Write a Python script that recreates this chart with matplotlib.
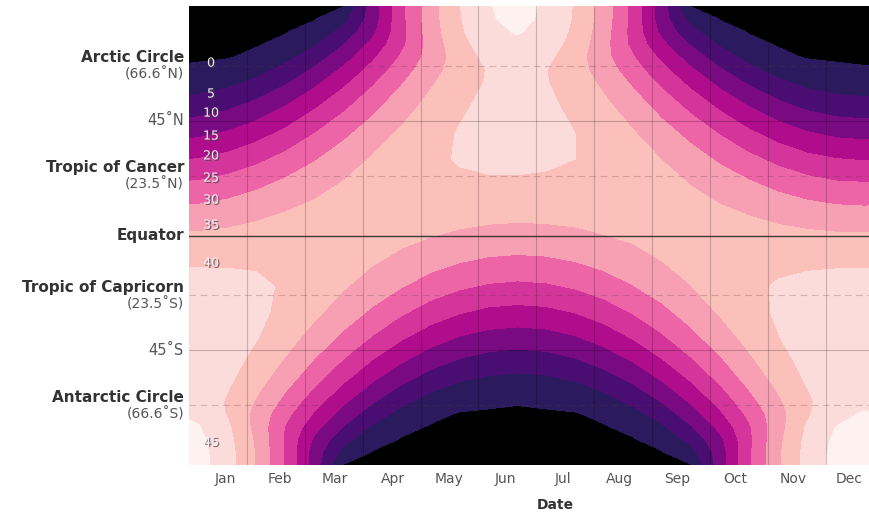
import numpy as np
import matplotlib
matplotlib.use('Agg')
import matplotlib.pyplot as plt
import matplotlib.patheffects as pe

# time axis in months (0 = Jan 1, 12 = Dec 31), half-month steps
x_months = [-0.33, 0.17, 0.67, 1.17, 1.67, 2.17, 2.67, 3.17, 3.67, 4.17, 4.67, 5.17, 5.67,
            6.17, 6.67, 7.17, 7.67, 8.17, 8.67, 9.17, 9.67, 10.17, 10.67, 11.17, 11.67, 12.17]

lats = [-90, -85, -80, -75, -70, -65, -60, -50, -40, -30, -20, -10, 0,
        10, 20, 30, 40, 50, 60, 65, 70, 75, 80, 85, 90]

# daily insolation (MJ/m^2), one row per latitude
q_s90 = [48.3, 46.8, 42.1, 34.5, 24.4, 12.6, 0, 0, 0, 0, 0, 0, 0, 0, 0, 0, 0, 0, 0, 12.5, 24.1, 34.1, 41.8, 46.6, 48.3, 46.8]
q_s85 = [48.1, 46.6, 41.9, 34.4, 24.3, 12.6, 3.3, 0, 0, 0, 0, 0, 0, 0, 0, 0, 0, 0, 3.2, 12.4, 24.0, 34.0, 41.6, 46.4, 48.1, 46.6]
q_s80 = [47.6, 46.1, 41.5, 34.0, 24.1, 14.0, 6.5, 1.6, 0, 0, 0, 0, 0, 0, 0, 0, 0, 1.5, 6.5, 13.8, 23.8, 33.6, 41.2, 45.9, 47.6, 46.1]
q_s75 = [46.7, 45.2, 40.7, 33.3, 24.6, 16.7, 9.8, 4.4, 1.0, 0, 0, 0, 0, 0, 0, 0, 1.0, 4.3, 9.6, 16.4, 24.3, 33.0, 40.4, 45.0, 46.7, 45.2]
q_s70 = [45.4, 44.0, 39.6, 33.3, 26.4, 19.4, 12.9, 7.4, 3.4, 0.9, 0, 0, 0, 0, 0, 0.9, 3.3, 7.3, 12.7, 19.1, 26.1, 33.0, 39.3, 43.8, 45.4, 44.0]
q_s65 = [44.0, 42.9, 39.5, 34.5, 28.5, 22.1, 15.9, 10.5, 6.2, 3.1, 1.3, 0.5, 0.3, 0.5, 1.3, 3.1, 6.1, 10.3, 15.7, 21.8, 28.2, 34.2, 39.2, 42.7, 44.0, 42.9]
q_s60 = [43.9, 43.0, 40.2, 35.9, 30.5, 24.7, 18.9, 13.5, 9.1, 5.8, 3.6, 2.4, 2.0, 2.3, 3.5, 5.7, 9.0, 13.3, 18.6, 24.3, 30.2, 35.5, 39.9, 42.8, 43.9, 43.0]
q_s50 = [44.4, 43.8, 41.7, 38.4, 34.2, 29.3, 24.2, 19.3, 15.0, 11.5, 9.0, 7.5, 6.9, 7.4, 8.9, 11.4, 14.8, 19.1, 23.9, 28.9, 33.8, 38.0, 41.4, 43.6, 44.4, 43.8]
q_s40 = [44.5, 44.1, 42.6, 40.2, 37.0, 33.1, 28.9, 24.6, 20.6, 17.3, 14.7, 13.2, 12.6, 13.1, 14.6, 17.1, 20.4, 24.3, 28.5, 32.7, 36.5, 39.8, 42.3, 43.9, 44.5, 44.1]
q_s30 = [43.8, 43.5, 42.6, 41.0, 38.8, 36.0, 32.7, 29.2, 25.7, 22.7, 20.4, 18.9, 18.4, 18.8, 20.2, 22.5, 25.4, 28.7, 32.2, 35.5, 38.3, 40.6, 42.3, 43.3, 43.8, 43.5]
q_s20 = [42.0, 41.9, 41.5, 40.8, 39.5, 37.7, 35.4, 32.8, 30.2, 27.7, 25.7, 24.4, 23.9, 24.3, 25.5, 27.4, 29.8, 32.4, 34.9, 37.2, 39.0, 40.4, 41.3, 41.8, 42.0, 41.9]
q_s10 = [39.2, 39.3, 39.4, 39.4, 39.1, 38.3, 37.1, 35.5, 33.7, 31.9, 30.3, 29.3, 28.9, 29.2, 30.1, 31.6, 33.3, 35.0, 36.6, 37.8, 38.6, 39.0, 39.1, 39.2, 39.2, 39.3]
q_eq = [35.5, 35.7, 36.2, 36.9, 37.5, 37.8, 37.7, 37.2, 36.3, 35.2, 34.2, 33.5, 33.2, 33.4, 34.0, 34.9, 35.8, 36.6, 37.2, 37.3, 37.0, 36.5, 36.0, 35.6, 35.5, 35.7]
q_n10 = [30.8, 31.2, 32.1, 33.4, 34.8, 36.1, 37.1, 37.7, 37.8, 37.6, 37.3, 36.9, 36.7, 36.8, 37.0, 37.2, 37.3, 37.2, 36.6, 35.6, 34.4, 33.1, 31.9, 31.1, 30.8, 31.2]
q_n20 = [25.5, 25.9, 27.2, 29.0, 31.2, 33.4, 35.4, 37.1, 38.2, 38.9, 39.3, 39.4, 39.4, 39.2, 39.0, 38.5, 37.8, 36.6, 34.9, 32.9, 30.8, 28.7, 27.0, 25.8, 25.5, 25.9]
q_n30 = [19.6, 20.1, 21.6, 23.8, 26.6, 29.6, 32.7, 35.4, 37.6, 39.2, 40.3, 40.9, 41.0, 40.7, 40.0, 38.8, 37.1, 34.9, 32.2, 29.2, 26.3, 23.6, 21.4, 20.1, 19.6, 20.1]
q_n40 = [13.5, 14.0, 15.6, 18.1, 21.3, 25.0, 28.9, 32.6, 35.8, 38.4, 40.3, 41.4, 41.7, 41.2, 40.0, 38.0, 35.4, 32.1, 28.5, 24.7, 21.0, 17.9, 15.5, 14.0, 13.5, 14.0]
q_n50 = [7.4, 7.9, 9.5, 12.0, 15.5, 19.7, 24.2, 28.8, 33.1, 36.7, 39.4, 41.1, 41.6, 40.9, 39.1, 36.3, 32.7, 28.4, 23.9, 19.4, 15.3, 11.9, 9.4, 7.9, 7.4, 7.9]
q_n60 = [2.1, 2.5, 3.8, 6.0, 9.4, 13.8, 18.9, 24.3, 29.6, 34.3, 38.0, 40.4, 41.2, 40.2, 37.7, 33.9, 29.2, 23.9, 18.6, 13.6, 9.3, 6.0, 3.7, 2.5, 2.1, 2.5]
q_n65 = [0.3, 0.5, 1.4, 3.3, 6.4, 10.7, 15.9, 21.7, 27.6, 33.0, 37.4, 40.3, 41.3, 40.1, 37.1, 32.6, 27.2, 21.4, 15.7, 10.5, 6.3, 3.2, 1.4, 0.5, 0.3, 0.5]
q_n70 = [0, 0, 0, 0.9, 3.5, 7.6, 12.9, 19.1, 25.6, 31.9, 37.4, 41.3, 42.5, 41.1, 37.1, 31.5, 25.3, 18.8, 12.7, 7.4, 3.4, 0.9, 0, 0, 0, 0]
q_n75 = [0, 0, 0, 0, 1.0, 4.5, 9.8, 16.4, 23.8, 31.8, 38.4, 42.4, 43.9, 42.3, 38.2, 31.5, 23.5, 16.2, 9.6, 4.4, 1.0, 0, 0, 0, 0, 0]
q_n80 = [0, 0, 0, 0, 0, 1.6, 6.5, 13.8, 23.3, 32.4, 39.2, 43.6, 45.4, 43.4, 38.9, 32.1, 23.0, 13.6, 6.4, 1.6, 0, 0, 0, 0, 0, 0]
q_n85 = [0, 0, 0, 0, 0, 0, 3.3, 12.4, 23.6, 32.8, 39.6, 44.6, 46.0, 44.3, 39.3, 32.5, 23.3, 12.2, 3.2, 0, 0, 0, 0, 0, 0, 0]
q_n90 = [0, 0, 0, 0, 0, 0, 0, 12.4, 23.6, 32.9, 39.8, 44.8, 46.2, 44.5, 39.5, 32.6, 23.3, 12.2, 0, 0, 0, 0, 0, 0, 0, 0]

months = ['Jan', 'Feb', 'Mar', 'Apr', 'May', 'Jun', 'Jul', 'Aug', 'Sep', 'Oct', 'Nov', 'Dec']
month_pos = [0.62, 1.57, 2.52, 3.52, 4.50, 5.46, 6.46, 7.44, 8.43, 9.43, 10.43, 11.40]

lat_ticks = [66.6, 45, 23.5, 0, -23.5, -45, -66.6]
lat_names = ['Arctic Circle', '45\u02daN', 'Tropic of Cancer', 'Equator',
             'Tropic of Capricorn', '45\u02daS', 'Antarctic Circle']
lat_subs = ['(66.6\u02daN)', '', '(23.5\u02daN)', '', '(23.5\u02daS)', '', '(66.6\u02daS)']
lat_bold = [True, False, True, True, True, False, True]

label_vals = [0, 5, 10, 15, 20, 25, 30, 35, 40, 45]
label_lat = [67.6, 55.5, 48.0, 39.0, 31.2, 22.5, 13.9, 4.1, -10.8, -81.0]

levels = [-1, 0.2, 5, 10, 15, 20, 25, 30, 35, 40, 45, 60]
colors = ['#000000', '#2b1a5d', '#4a0e72', '#7a0a82', '#b00d8d', '#d3359a',
          '#ee65a7', '#f7a0b3', '#fbc0b9', '#fcdcda', '#fef2f0']


def main():
    q = np.array([q_s90, q_s85, q_s80, q_s75, q_s70, q_s65, q_s60, q_s50, q_s40, q_s30,
                  q_s20, q_s10, q_eq, q_n10, q_n20, q_n30, q_n40, q_n50, q_n60, q_n65,
                  q_n70, q_n75, q_n80, q_n85, q_n90])

    fig = plt.figure(figsize=(8.69, 5.14), dpi=100)
    ax = fig.add_axes([189.0 / 869, 1 - 465.0 / 514, 694.8 / 869, 459.0 / 514])

    ax.contourf(x_months, lats, q, levels=levels, colors=colors)
    ax.set_xlim(0, 12)
    ax.set_ylim(-90, 90)

    # month boundaries
    for m in range(1, 12):
        ax.axvline(m, color='k', alpha=0.2, lw=0.8)
    ax.axhline(0, color='#222222', alpha=0.85, lw=1.0)
    for y in (45, -45):
        ax.axhline(y, color='k', alpha=0.22, lw=0.8)
    for y in (66.6, 23.5, -23.5, -66.6):
        ax.axhline(y, color='#663344', alpha=0.25, lw=0.8, linestyle=(0, (6, 4)))

    for s in ax.spines.values():
        s.set_visible(False)

    ax.set_xticks(month_pos)
    ax.set_xticklabels(months, color='#555555', fontsize=10)
    ax.tick_params(axis='x', length=0, pad=5)
    ax.set_yticks([])
    ax.set_xlabel('Date', fontsize=10, fontweight='bold', color='#333333')
    ax.xaxis.set_label_coords(0.527, -0.072)

    trans = ax.get_yaxis_transform()
    for lat, name, sub, bold in zip(lat_ticks, lat_names, lat_subs, lat_bold):
        if sub:
            ax.annotate(name, xy=(0, lat), xycoords=trans, xytext=(-5, 8),
                        textcoords='offset pixels', ha='right', va='center',
                        fontsize=11, fontweight='bold', color='#333333')
            ax.annotate(sub, xy=(0, lat), xycoords=trans, xytext=(-5, -9),
                        textcoords='offset pixels', ha='right', va='center',
                        fontsize=10, color='#555555')
        elif bold:
            ax.annotate(name, xy=(0, lat), xycoords=trans, xytext=(-5, 0),
                        textcoords='offset pixels', ha='right', va='center',
                        fontsize=11, fontweight='bold', color='#333333')
        else:
            ax.annotate(name, xy=(0, lat), xycoords=trans, xytext=(-5, 0),
                        textcoords='offset pixels', ha='right', va='center',
                        fontsize=10.5, color='#555555')

    # level labels along the left edge
    shadow = [pe.withSimplePatchShadow(offset=(1, -1), shadow_rgbFace='#444444', alpha=0.7)]
    for v, lat in zip(label_vals, label_lat):
        ax.text(0.38, lat, str(v), ha='center', va='center', fontsize=9,
                color='#f8eef6', path_effects=shadow)

    fig.savefig('out.png', dpi=100)


if __name__ == "__main__":
    main()
